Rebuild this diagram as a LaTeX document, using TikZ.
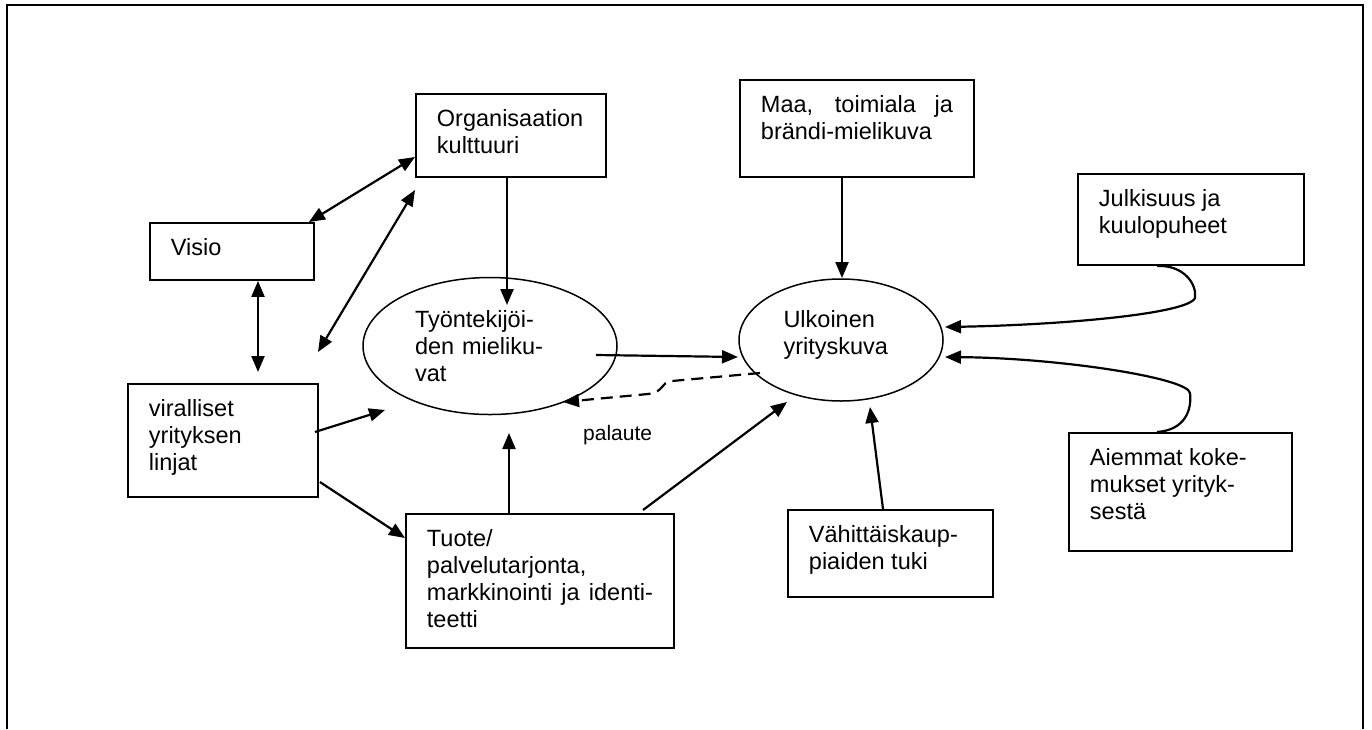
\documentclass[tikz,border=0pt]{standalone}
\usepackage{fontspec}
\setmainfont{Liberation Sans}
\usetikzlibrary{arrows.meta,shapes.geometric,calc}
\newcommand\fsmain{\fontsize{23.5}{27}\selectfont}
\newcommand\boxtxt[3]{\parbox[t][#2][t]{#1}{\hspace*{21pt}\parbox[t]{\dimexpr#1-42pt\relax}{\rule{0pt}{33pt}#3}}}
\newcommand\just[1]{\makebox[\linewidth][s]{#1}}
\begin{document}
\begin{tikzpicture}[x=1pt,y=-1pt,
  box/.style={draw,line width=1.9pt,inner sep=0pt,anchor=north west,font=\fsmain},
  oval/.style={draw,ellipse,line width=1.5pt,inner sep=0pt,font=\fsmain,align=left},
  tip/.style={Triangle[length=16pt,width=13pt]},
  arr/.style={line width=2.2pt,-{Triangle[length=16pt,width=13pt]}},
  darr/.style={line width=2.2pt,{Triangle[length=16pt,width=13pt]}-{Triangle[length=16pt,width=13pt]}},
  frame/.style={line width=2.6pt}]
\useasboundingbox (0,0) rectangle (1372,729);
% frame
\draw[frame] (7,729) -- (7,5) -- (1363,5) -- (1363,729);
% boxes
\node[box] (org) at (415,93) {\boxtxt{190pt}{83pt}{Organisaation\\ kulttuuri}};
\node[box] (maa) at (739,79) {\boxtxt{234pt}{97pt}{\just{Maa, toimiala ja}\\ brändi-mielikuva}};
\node[box] (jul) at (1077,173) {\boxtxt{226pt}{91pt}{Julkisuus ja\\ kuulopuheet}};
\node[box] (visio) at (149,222) {\boxtxt{164pt}{57pt}{Visio}};
\node[box] (vir) at (127,383) {\boxtxt{190pt}{113pt}{viralliset\\ yrityksen\\ linjat}};
\node[box] (tuote) at (405,513) {\boxtxt{268pt}{134pt}{Tuote/\\ palvelutarjonta,\\ \just{markkinointi ja identi-}\\ teetti}};
\node[box] (vah) at (787,509) {\boxtxt{205pt}{87pt}{Vähittäiskaup-\\ piaiden tuki}};
\node[box] (aie) at (1068,432) {\boxtxt{223pt}{118pt}{Aiemmat koke-\\ mukset yrityk-\\ sestä}};
% ellipses
\node[oval,minimum width=254pt,minimum height=137pt,text width=150pt] (tyo) at (490,346) {Työntekijöi-\\ \just{den mieliku-}\\ vat};
\node[oval,minimum width=204pt,minimum height=122pt,text width=115pt] (ulk) at (841,340) {Ulkoinen\\ yrityskuva\rule[-15pt]{0pt}{15pt}};
% label
\node[font=\fontsize{21}{24}\selectfont,anchor=base west,inner sep=0pt] (pal) at (583,440) {palaute};
% free ends
\coordinate (c1) at (318,352);
\coordinate (c2) at (415,190);
\coordinate (c3) at (258,372);
\coordinate (c4) at (385,410);
\coordinate (c5) at (507,305);
\coordinate (c6) at (509,433);
\coordinate (c7) at (643,510);
\coordinate (c8) at (787,402);
\coordinate (c9) at (596,355);
\coordinate (c10) at (738,357);
\coordinate (c11) at (760,373);
\coordinate (c12) at (563,402);
\coordinate (c13) at (842,278);
\coordinate (c14) at (945,327);
\coordinate (c15) at (945,357);
\coordinate (c16) at (870,407);
% connectors
\draw[darr] ($(visio.north east)+(-6,0)$) -- ($(org.north west)+(0,64)$);
\draw[darr] (c1) -- (c2);
\draw[darr] ($(visio.south west)+(109,0)$) -- (c3);
\draw[arr] ($(vir.north east)+(-4,49)$) -- (c4);
\draw[arr] ($(vir.north east)+(1,99)$) -- ($(tuote.north west)+(0,25)$);
\draw[arr] ($(org.south west)+(92,0)$) -- (c5);
\draw[arr] ($(tuote.north west)+(104,0)$) -- (c6);
\draw[arr] (c7) -- (c8);
\draw[arr] (c9) -- (c10);
\draw[line width=2.2pt,dash pattern=on 12pt off 7pt,-{Triangle[length=16pt,width=13pt]}] (c11) -- (672,381) .. controls (660,382) and (665,392) .. (648,394) -- (c12);
\draw[arr] ($(maa.south west)+(103,0)$) -- (c13);
\draw[arr] ($(jul.south west)+(80,0)$) .. controls (1185,265) and (1197,285) .. (1195,298) .. controls (1188,314) and (1060,325) .. (c14);
\draw[arr] ($(aie.north west)+(89,0)$) .. controls (1185,430) and (1192,410) .. (1190,393) .. controls (1188,378) and (1060,358) .. (c15);
\draw[arr] ($(vah.north west)+(96,0)$) -- (c16);
\end{tikzpicture}
\end{document}
